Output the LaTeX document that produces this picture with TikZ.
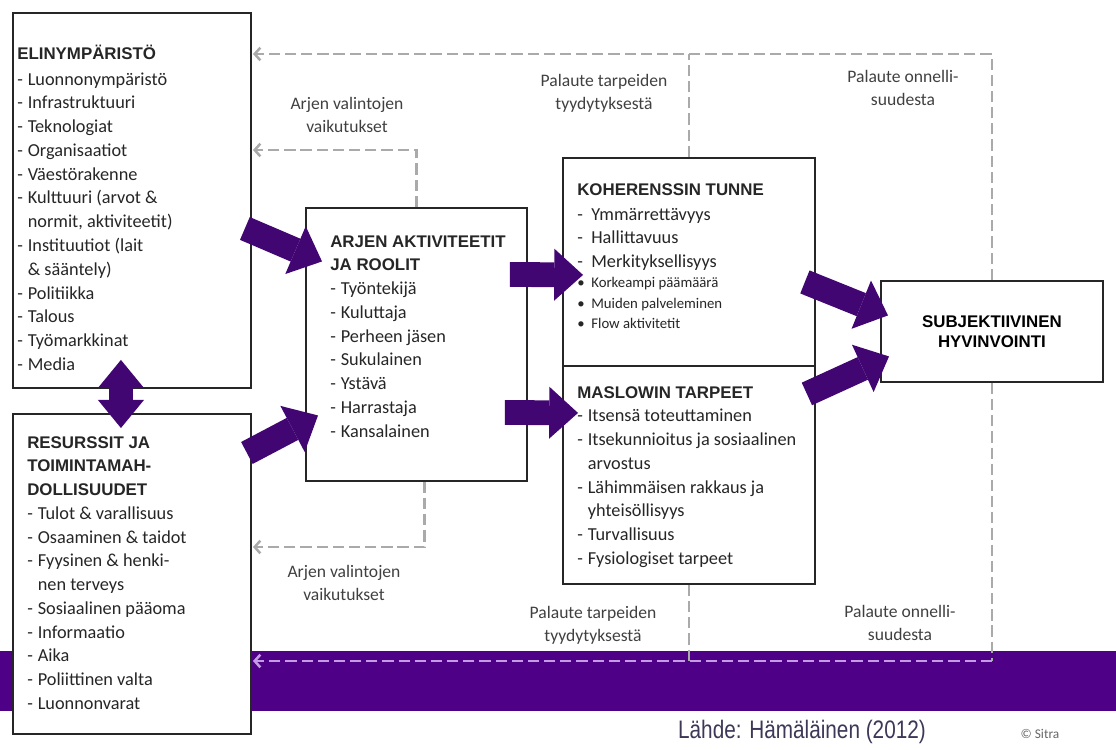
\documentclass[tikz,border=0pt]{standalone}
\usepackage{fontspec}
\setmainfont{Carlito}
\newfontfamily\hdfont{Liberation Sans}
\newfontfamily\srcfont[FakeStretch=0.82]{Liberation Sans}
\usepackage{xcolor}
\usepackage{tikz}
\usetikzlibrary{arrows.meta,calc,positioning}

\definecolor{bandpurple}{RGB}{78,0,134}
\definecolor{arrowpurple}{RGB}{66,6,114}
\definecolor{fbgrey}{RGB}{170,170,170}
\definecolor{fblilac}{RGB}{196,156,228}
\definecolor{srcgrey}{RGB}{62,56,88}

\newcommand{\hd}[1]{{\hdfont\bfseries\fontsize{12}{16.9}\selectfont #1}}
\newcommand{\li}{\makebox[7.5pt][l]{-}}
\newcommand{\cont}{\hspace*{7.5pt}}
\newcommand{\sm}{\fontsize{10.5}{14}\selectfont}
\newcommand{\kd}{\makebox[10pt][l]{-}}
\newcommand{\kb}{\makebox[10pt][l]{\textbullet}}

\begin{document}
\begin{tikzpicture}[x=0.025cm,y=-0.025cm]
\tikzset{box/.style={draw=black!85, line width=1.3pt, fill=white, anchor=north west, inner sep=0pt},
  boxtext/.style={anchor=base west, align=flush left, text width=6cm, inner sep=0pt, font=\fontsize{13}{16.9}\selectfont, text=black!85},
  lbl/.style={align=flush center, inner sep=0pt, font=\fontsize{12.5}{16.4}\selectfont, text=black!75},
  fb/.style={draw=fbgrey, line width=1.8pt, dash pattern=on 8pt off 3.5pt, -{Straight Barb[length=4pt,width=9pt]}},
  bigarrow/.style={draw=arrowpurple, line width=0.62cm, -{Triangle[length=0.72cm,width=1.3cm,line width=0pt]}}}
\useasboundingbox (0,0) rectangle (1116,749);

\fill[bandpurple] (0,651) rectangle (1116,711);

% boxes
\node[box, minimum width=5.95cm, minimum height=9.375cm] (elin) at (12,12) {};
\node[box, minimum width=5.95cm, minimum height=8cm] (res) at (12,413) {};
\node[box, minimum width=5.525cm, minimum height=6.825cm] (arjen) at (305,207) {};
\node[box, minimum width=6.3cm, minimum height=5.2cm] (koh) at (562,157) {};
\node[box, minimum width=6.3cm, minimum height=5.45cm] (mas) at (562,365) {};
\node[box, minimum width=5.55cm, minimum height=2.525cm, align=flush center,
  font=\hdfont\bfseries\fontsize{12}{14.5}\selectfont] (subj) at (880,280)
  {SUBJEKTIIVINEN\\HYVINVOINTI};

\node[boxtext] (elintext) at ($(elin.north west)+(5,48)$) {\hd{ELINYMPÄRISTÖ}\\[1pt]
  \li Luonnonympäristö\\
  \li Infrastruktuuri\\
  \li Teknologiat\\
  \li Organisaatiot\\
  \li Väestörakenne\\
  \li Kulttuuri (arvot \&\\
  \cont normit, aktiviteetit)\\
  \li Instituutiot (lait\\
  \cont \& sääntely)\\
  \li Politiikka\\
  \li Talous\\
  \li Työmarkkinat\\
  \li Media};

\node[boxtext] (restext) at ($(res.north west)+(15,35)$) {\hd{RESURSSIT JA}\\
  \hd{TOIMINTAMAH-}\\
  \hd{DOLLISUUDET}\\
  \li Tulot \& varallisuus\\
  \li Osaaminen \& taidot\\
  \li Fyysinen \& henki-\\
  \cont nen terveys\\
  \li Sosiaalinen pääoma\\
  \li Informaatio\\
  \li Aika\\
  \li Poliittinen valta\\
  \li Luonnonvarat};

\node[boxtext] (arjtext) at ($(arjen.north west)+(25,40)$) {\hd{ARJEN AKTIVITEETIT}\\
  \hd{JA ROOLIT}\\
  \li Työntekijä\\
  \li Kuluttaja\\
  \li Perheen jäsen\\
  \li Sukulainen\\
  \li Ystävä\\
  \li Harrastaja\\
  \li Kansalainen};

\node[boxtext] (kohtext) at ($(koh.north west)+(15,38)$) {\hd{KOHERENSSIN TUNNE}\\[1pt]
  \kd Ymmärrettävyys\\
  \kd Hallittavuus\\
  \kd Merkityksellisyys\\[-2.5pt]
  {\sm\kb Korkeampi päämäärä}\\[-2.5pt]
  {\sm\kb Muiden palveleminen}\\[-2.5pt]
  {\sm\kb Flow aktivitetit}};

\node[boxtext] (mastext) at ($(mas.north west)+(15,33)$) {\hd{MASLOWIN TARPEET}\\
  \li Itsensä toteuttaminen\\
  \li Itsekunnioitus ja sosiaalinen\\
  \cont arvostus\\
  \li Lähimmäisen rakkaus ja\\
  \cont yhteisöllisyys\\
  \li Turvallisuus\\
  \li Fysiologiset tarpeet};

% feedback loops
\coordinate (fbtop) at (253,54);
\coordinate (fbmid) at (253,150);
\coordinate (fbres) at (253,547);
\coordinate (fbbot) at (253,661);
\draw[fb] (subj.north) |- (fbtop);
\draw[fb,-] (koh.north) -- (koh.north |- fbtop);
\draw[fb] (arjen.north) |- (fbmid);
\draw[fb] ([xshift=0.2cm]arjen.south) |- (fbres);
\draw[fb,-] (subj.south) -- (subj.south |- fbbot);
\draw[fb,-] (mas.south) -- (mas.south |- fbbot);
\draw[fb,draw=fblilac] (subj.south |- fbbot) -- (fbbot);

\node[lbl] (arjtop) at (347,115) {Arjen valintojen\\vaikutukset};
\node[lbl] (paltop) at (604,93) {Palaute tarpeiden\\tyydytyksestä};
\node[lbl] (onntop) at (903,88) {Palaute onnelli-\\suudesta};
\node[lbl] (arjbot) at (344,583) {Arjen valintojen\\vaikutukset};
\node[lbl] (palbot) at (593,625) {Palaute tarpeiden\\tyydytyksestä};
\node[lbl] (onnbot) at (900,623) {Palaute onnelli-\\suudesta};

% main flow
\draw[bigarrow] ($(elin.east)+(-7,28)$) -- ($(arjen.west)+(17,-83)$);
\draw[bigarrow] ($(res.east)+(-5,-121)$) -- ($(arjen.west)+(13,71)$);
\draw[bigarrow] ($(arjen.east)+(-18,-70)$) -- ($(koh.west)+(21,13)$);
\draw[bigarrow] ($(arjen.east)+(-23,68)$) -- ($(mas.west)+(16,-62)$);
\draw[bigarrow] ($(koh.east)+(-11,20)$) -- ($(subj.west)+(8,-16)$);
\draw[bigarrow] ($(mas.east)+(-9,-81)$) -- ($(subj.west)+(9,25)$);
\draw[bigarrow, {Triangle[length=0.7cm,width=1.15cm,line width=0pt]}-{Triangle[length=0.7cm,width=1.15cm,line width=0pt]}]
  ($(elin.south)+(-11,-29)$) -- ($(res.north)+(-11,15)$);

\node[font=\srcfont\fontsize{18}{20}\selectfont, text=srcgrey] (src) at (802,732) {Lähde: Hämäläinen (2012)};
\node[font=\fontsize{9.5}{11}\selectfont, text=black!60] (sitra) at (1040,734) {© Sitra};
\end{tikzpicture}
\end{document}
